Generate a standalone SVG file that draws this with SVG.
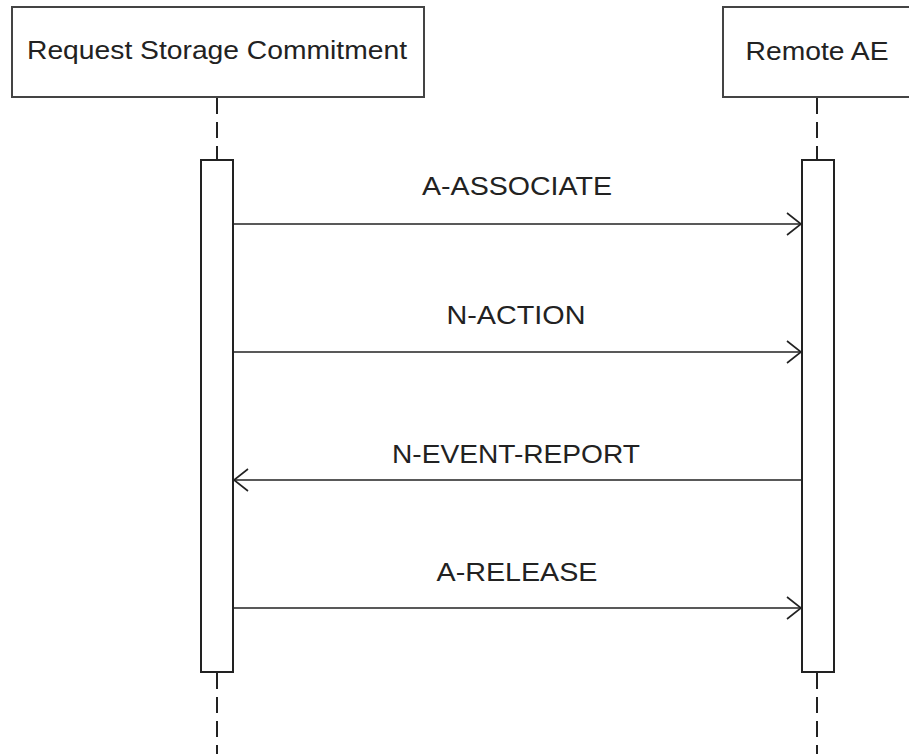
<svg xmlns="http://www.w3.org/2000/svg" width="909" height="754" viewBox="0 0 909 754">
<style>
.box{fill:#fff;stroke:#444;stroke-width:2}
.act{fill:#fff;stroke:#222;stroke-width:2}
.life{stroke:#222;stroke-width:2;stroke-dasharray:16 8;fill:none}
.msg{stroke:#222;stroke-width:1.6;fill:none}
.t{font-family:"Liberation Sans",Arial,sans-serif;font-size:25px;fill:#222;text-anchor:middle}
</style>
<defs>
<marker id="open" viewBox="0 0 16 24" refX="15" refY="12" markerWidth="16" markerHeight="24" markerUnits="userSpaceOnUse" orient="auto">
<path d="M1,1 L15,12 L1,23" fill="none" stroke="#222" stroke-width="1.6"/>
</marker>
</defs>
<g id="node-requester">
<rect class="box" x="12" y="7" width="412" height="90"/>
<text class="t" x="217" y="59" textLength="380" lengthAdjust="spacingAndGlyphs">Request Storage Commitment</text>
</g>
<g id="node-remote">
<rect class="box" x="723" y="7" width="190" height="90"/>
<text class="t" x="817" y="60" textLength="143" lengthAdjust="spacingAndGlyphs">Remote AE</text>
</g>
<g id="lifelines">
<line class="life" x1="217" y1="98" x2="217" y2="160"/>
<line class="life" x1="217" y1="673" x2="217" y2="754"/>
<line class="life" x1="817" y1="98" x2="817" y2="160"/>
<line class="life" x1="817" y1="673" x2="817" y2="754"/>
</g>
<g id="activation-requester">
<rect class="act" x="201" y="160" width="32" height="512"/>
</g>
<g id="activation-remote">
<rect class="act" x="802" y="160" width="32" height="512"/>
</g>
<g id="connectors">
<line class="msg" x1="233" y1="224" x2="801" y2="224" marker-end="url(#open)"/>
<line class="msg" x1="233" y1="352" x2="801" y2="352" marker-end="url(#open)"/>
<line class="msg" x1="801" y1="480" x2="234" y2="480" marker-end="url(#open)"/>
<line class="msg" x1="233" y1="608" x2="801" y2="608" marker-end="url(#open)"/>
</g>
<g id="labels">
<text class="t" x="517" y="195" textLength="190" lengthAdjust="spacingAndGlyphs">A-ASSOCIATE</text>
<text class="t" x="516" y="324" textLength="139" lengthAdjust="spacingAndGlyphs">N-ACTION</text>
<text class="t" x="516" y="463" textLength="248" lengthAdjust="spacingAndGlyphs">N-EVENT-REPORT</text>
<text class="t" x="517" y="581" textLength="161" lengthAdjust="spacingAndGlyphs">A-RELEASE</text>
</g>
</svg>
